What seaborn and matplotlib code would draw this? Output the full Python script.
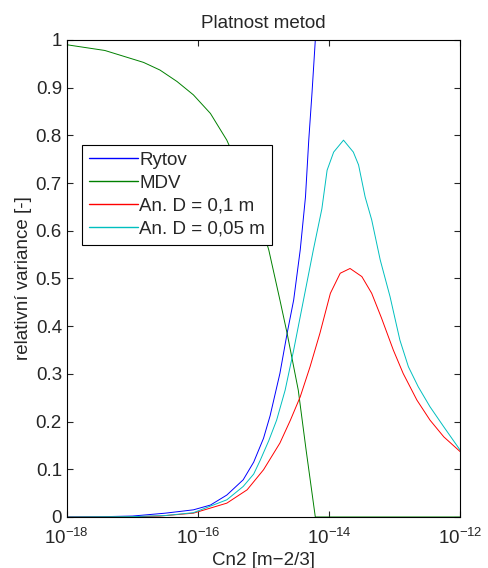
import numpy as np
import pandas as pd
import matplotlib
matplotlib.use("Agg")
import matplotlib.pyplot as plt
import seaborn as sns

# Data (log10 of Cn2, relative variance)
rytov_logx = [-18.0, -17.5, -17.0, -16.83, -16.5, -16.07, -15.81, -15.56, -15.31, -15.15,
              -15.0, -14.9, -14.75, -14.64, -14.54, -14.44, -14.36, -14.31, -14.26, -14.21]
rytov_y = [0.0, 0.0005, 0.002, 0.004, 0.008, 0.015, 0.025, 0.046, 0.078, 0.115,
           0.165, 0.212, 0.301, 0.385, 0.455, 0.560, 0.671, 0.790, 0.89, 1.0]

mdv_logx = [-18.0, -17.42, -16.83, -16.58, -16.32, -16.07, -15.81, -15.56, -15.3, -15.1,
            -14.92, -14.75, -14.64, -14.54, -14.47, -14.41, -14.35, -14.28, -14.21, -13.5, -12.0]
mdv_y = [0.99, 0.978, 0.953, 0.937, 0.913, 0.885, 0.846, 0.790, 0.71, 0.64,
         0.56, 0.455, 0.385, 0.315, 0.266, 0.203, 0.14, 0.07, 0.0, 0.0, 0.0]

an01_logx = [-18.0, -17.0, -16.58, -16.07, -15.56, -15.25, -15.0, -14.75, -14.59, -14.44,
             -14.29, -14.14, -13.98, -13.83, -13.68, -13.50, -13.35, -13.2, -13.02, -12.87,
             -12.66, -12.46, -12.25, -12.0]
an01_y = [0.0, 0.0005, 0.002, 0.008, 0.029, 0.057, 0.099, 0.155, 0.203, 0.252,
          0.315, 0.385, 0.469, 0.511, 0.521, 0.504, 0.469, 0.417, 0.350, 0.301,
          0.245, 0.203, 0.168, 0.137]

an005_logx = [-18.0, -17.0, -16.5, -16.07, -15.56, -15.31, -15.15, -15.05, -14.92, -14.80,
              -14.67, -14.54, -14.39, -14.24, -14.11, -14.03, -13.93, -13.78, -13.63, -13.55,
              -13.45, -13.35, -13.22, -13.07, -12.92, -12.79, -12.64, -12.46, -12.25, -12.0]
an005_y = [0.0, 0.0008, 0.003, 0.009, 0.036, 0.064, 0.090, 0.119, 0.160, 0.203,
           0.266, 0.350, 0.455, 0.560, 0.646, 0.727, 0.765, 0.790, 0.765, 0.738,
           0.671, 0.623, 0.539, 0.462, 0.371, 0.315, 0.273, 0.231, 0.189, 0.140]

labels = ["Rytov", "MDV", "An. D = 0,1 m", "An. D = 0,05 m"]
colors = ["#0000ff", "#008000", "#ff0000", "#00bfbf"]

frames = []
for lab, lx, yy in zip(labels, [rytov_logx, mdv_logx, an01_logx, an005_logx],
                       [rytov_y, mdv_y, an01_y, an005_y]):
    frames.append(pd.DataFrame({"Cn2": 10.0 ** np.array(lx), "var": yy, "series": lab}))
df = pd.concat(frames, ignore_index=True)

sns.set_style("ticks")
plt.rcParams["font.family"] = ["Liberation Sans", "DejaVu Sans"]
plt.rcParams["mathtext.fontset"] = "custom"
plt.rcParams["mathtext.rm"] = "Liberation Sans"

FS = 13.5

fig = plt.figure(figsize=(4.88, 5.68), dpi=100)
ax = fig.add_axes([0.137, 0.0898, 0.806, 0.8398])

sns.lineplot(data=df, x="Cn2", y="var", hue="series", hue_order=labels,
             palette=colors, linewidth=0.7, sort=False, estimator=None, ax=ax)

ax.set_xscale("log")
ax.set_xlim(1e-18, 1e-12)
ax.set_ylim(0, 1)
ax.set_xticks([1e-18, 1e-16, 1e-14, 1e-12])
ax.minorticks_off()
ax.set_yticks(np.arange(0, 1.01, 0.1))
ax.set_yticklabels(["0", "0.1", "0.2", "0.3", "0.4", "0.5", "0.6", "0.7", "0.8", "0.9", "1"])
ax.tick_params(direction="in", top=True, right=True, labelsize=FS, length=4, width=0.8)
ax.tick_params(axis="y", pad=3.5)
ax.tick_params(axis="x", pad=7.5)
for s in ax.spines.values():
    s.set_visible(True)
    s.set_linewidth(0.8)
    s.set_color("black")

ax.set_xlabel("Cn2 [m\u22122/3]", fontsize=FS, labelpad=3)
ax.set_ylabel("relativní variance [-]", fontsize=FS, labelpad=3)
ax.set_title("Platnost metod", fontsize=FS, pad=8.5)

leg = ax.legend(loc="upper left", bbox_to_anchor=(0.039, 0.78), fontsize=FS,
                frameon=True, fancybox=False, edgecolor="black", framealpha=1,
                handlelength=2.6, handletextpad=0.1, borderpad=0.35, labelspacing=0.32,
                borderaxespad=0)
leg.get_frame().set_linewidth(0.8)
for line in leg.get_lines():
    line.set_linewidth(1.0)

fig.savefig("out.png", dpi=100)
